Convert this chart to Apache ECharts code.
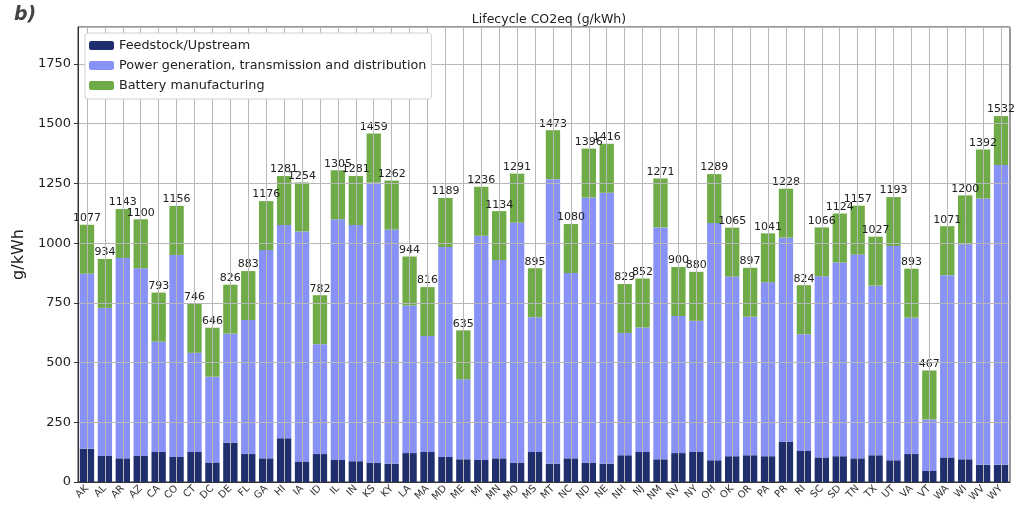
<!DOCTYPE html>
<html>
<head>
<meta charset="utf-8">
<script src="https://cdn.jsdelivr.net/npm/echarts@6/dist/echarts.min.js"></script>
<style>
  html, body { margin: 0; padding: 0; background: #fff; }
  #chart { width: 1020px; height: 508px; }
</style>
</head>
<body>
<div id="chart"></div>
<script>
// categories
const states = ['AK', 'AL', 'AR', 'AZ', 'CA', 'CO', 'CT', 'DC', 'DE', 'FL', 'GA', 'HI', 'IA',
  'ID', 'IL', 'IN', 'KS', 'KY', 'LA', 'MA', 'MD', 'ME', 'MI', 'MN', 'MO', 'MS', 'MT', 'NC',
  'ND', 'NE', 'NH', 'NJ', 'NM', 'NV', 'NY', 'OH', 'OK', 'OR', 'PA', 'PR', 'RI', 'SC', 'SD',
  'TN', 'TX', 'UT', 'VA', 'VT', 'WA', 'WI', 'WV', 'WY'];

// g/kWh per segment
const feedstock = [139, 109, 99, 109, 126, 105, 126, 82, 165, 117, 99, 183, 86,
  117, 92, 87, 81, 77, 121, 126, 105, 95, 92, 99, 81, 126, 77, 99,
  81, 77, 112, 126, 95, 121, 126, 91, 108, 112, 108, 169, 130, 103, 108,
  99, 112, 91, 117, 46, 103, 95, 72, 72];

const power = [733, 620, 839, 786, 462, 846, 415, 359, 456, 561, 872, 893, 963,
  460, 1008, 989, 1173, 980, 618, 485, 879, 335, 939, 830, 1005, 564, 1191, 776,
  1110, 1134, 512, 521, 971, 574, 549, 993, 752, 580, 728, 854, 489, 758, 811,
  853, 710, 897, 571, 216, 763, 900, 1115, 1255];

const battery = [205, 205, 205, 205, 205, 205, 205, 205, 205, 205, 205, 205, 205,
  205, 205, 205, 205, 205, 205, 205, 205, 205, 205, 205, 205, 205, 205, 205,
  205, 205, 205, 205, 205, 205, 205, 205, 205, 205, 205, 205, 205, 205, 205,
  205, 205, 205, 205, 205, 205, 205, 205, 205];

const yTicks = { min: 0, max: 1905, interval: 250 };

const FONT = 'DejaVu Sans';

let myChart = echarts.init(document.getElementById('chart'));

let option = {
  animation: false,
  backgroundColor: '#fff',
  textStyle: { fontFamily: FONT },
  title: [
    {
      text: 'b)',
      left: 9,
      top: 1,
      textStyle: { fontFamily: FONT, fontSize: 19, fontWeight: 'bold', fontStyle: 'italic', color: '#444' }
    },
    {
      text: 'Lifecycle CO2eq (g/kWh)',
      left: 544,
      top: 8,
      textAlign: 'center',
      textStyle: { fontFamily: FONT, fontSize: 12.5, fontWeight: 'normal', color: '#222' }
    }
  ],
  legend: {
    orient: 'vertical',
    left: 85,
    top: 33,
    z: 20,
    padding: [5, 5, 6, 4],
    backgroundColor: '#fff',
    borderColor: '#d0d0d0',
    borderWidth: 1,
    borderRadius: 3,
    itemWidth: 25,
    itemHeight: 9,
    itemGap: 5,
    textStyle: { fontFamily: FONT, fontSize: 12.8, color: '#222', lineHeight: 15 },
    data: ['Feedstock/Upstream', 'Power generation, transmission and distribution', 'Battery manufacturing']
  },
  grid: {
    left: 78,
    right: 10,
    top: 27,
    bottom: 26,
    show: true,
    borderColor: '#333',
    borderWidth: 1
  },
  xAxis: {
    type: 'category',
    data: states,
    z: 5,
    axisLine: { lineStyle: { color: '#333' } },
    axisTick: { alignWithLabel: true, length: 4, lineStyle: { color: '#333' } },
    axisLabel: { rotate: 45, fontSize: 10, color: '#333', margin: 5, interval: 0 },
    splitLine: { show: true, alignWithLabel: true, lineStyle: { color: '#b8b8b8', width: 1 } }
  },
  yAxis: {
    type: 'value',
    min: yTicks.min,
    max: yTicks.max,
    interval: yTicks.interval,
    z: 5,
    name: 'g/kWh',
    nameLocation: 'middle',
    nameGap: 46,
    nameTextStyle: { fontFamily: FONT, fontSize: 16, color: '#222' },
    axisLine: { show: true, lineStyle: { color: '#333' } },
    axisTick: { show: true, length: 4, lineStyle: { color: '#333' } },
    axisLabel: {
      fontSize: 13,
      color: '#222',
      margin: 7,
      showMaxLabel: false,
      formatter: function(v) { return String(v); }
    },
    splitLine: { show: true, lineStyle: { color: '#b8b8b8', width: 1 } }
  },
  series: [
    {
      name: 'Feedstock/Upstream',
      type: 'bar',
      stack: 'total',
      barWidth: '80%',
      data: feedstock,
      itemStyle: { color: '#1f2e6d' }
    },
    {
      name: 'Power generation, transmission and distribution',
      type: 'bar',
      stack: 'total',
      data: power,
      itemStyle: { color: '#8791f6' }
    },
    {
      name: 'Battery manufacturing',
      type: 'bar',
      stack: 'total',
      data: battery,
      itemStyle: { color: '#6fac47' },
      label: {
        show: true,
        position: 'top',
        distance: 1,
        fontFamily: FONT,
        fontSize: 11,
        color: '#222',
        formatter: function(p) {
          let i = p.dataIndex;
          return String(feedstock[i] + power[i] + battery[i]);
        }
      }
    }
  ]
};

myChart.setOption(option);
</script>
</body>
</html>
